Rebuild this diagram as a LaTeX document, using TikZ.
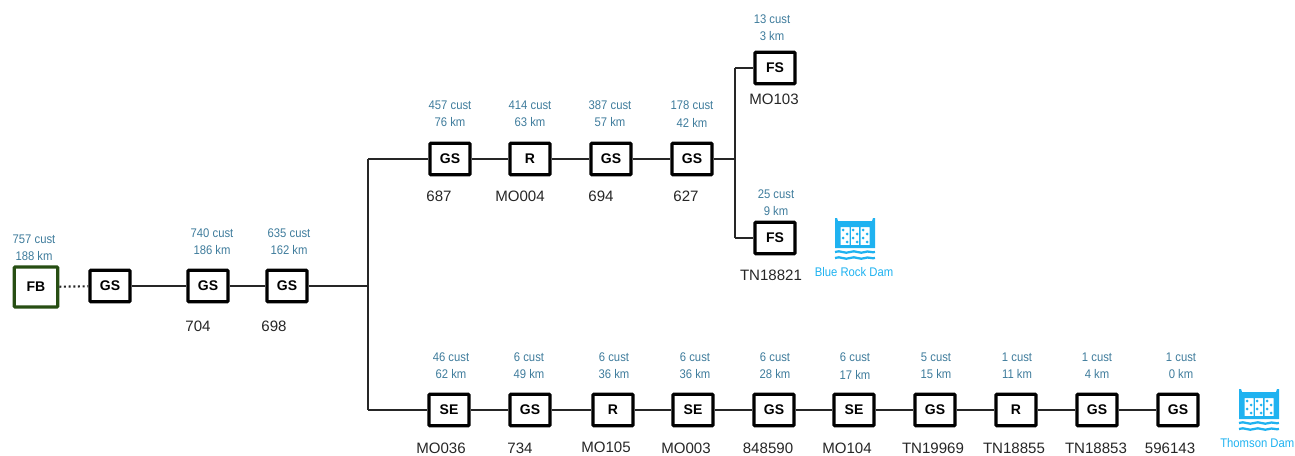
\documentclass[tikz,border=0pt]{standalone}
\usepackage{fontspec}
\setmainfont{Liberation Sans}
\newfontfamily\narrowfont[FakeStretch=0.9]{Liberation Sans}
\definecolor{custblue}{HTML}{3F7C9C}
\definecolor{dam}{HTML}{1FB2F0}
\definecolor{fbgreen}{HTML}{274E13}
\definecolor{idgray}{HTML}{262626}
\tikzset{
  x=0.75pt,y=-0.75pt,
  unit/.style={draw=black,line width=2.4pt,fill=white,minimum width=30pt,minimum height=23.5pt,inner sep=0pt,font=\fontsize{10.5}{12}\selectfont\bfseries,text=black,rounded corners=0.6pt},
  feeder/.style={unit,draw=fbgreen,minimum width=32.5pt,minimum height=30pt},
  stat/.style={align=center,inner sep=0pt,text=custblue,font=\narrowfont\fontsize{9.4}{13}\selectfont},
  ident/.style={inner sep=0pt,text=idgray,font=\fontsize{11.3}{13}\selectfont},
  damlabel/.style={inner sep=0pt,text=dam,font=\narrowfont\fontsize{9.4}{11}\selectfont},
  wire/.style={draw=black!85,line width=1.5pt},
  pics/damicon/.style={code={
    \fill[dam,even odd rule]
      (-20,-21) -- (-18,-21) -- (-17,-18) -- (17,-18) -- (18,-21) -- (20,-21) -- (20,9) -- (-20,9) -- cycle
      (-14.5,-12) rectangle (-5.5,6) (-4.2,-12) rectangle (4.2,6) (5.5,-12) rectangle (14.5,6);
    \foreach \xx in {-10,0,10}{
      \foreach \yy/\dd in {-9/-2,-5/2,-1/-2,3/2}{
        \fill[dam] (\xx+\dd,\yy) circle (1.5);
      }
    }
    \foreach \yy in {13,19}{
      \draw[dam,line width=1.7pt] (-20,\yy) .. controls (-15,\yy-2.5) and (-10,\yy+2.5) .. (-5,\yy)
        .. controls (0,\yy-2.5) and (5,\yy+2.5) .. (10,\yy) .. controls (13,\yy-1.5) and (17,\yy+1) .. (20,\yy);
    }
  }},
}
\begin{document}
\begin{tikzpicture}
\path[use as bounding box] (0,0) rectangle (1295,455);
\clip (0,0) rectangle (1295,455);
% nodes
\node[feeder] (fb) at (36,287) {FB};
\node[unit] (g0) at (110,286) {GS};
\node[unit] (g1) at (208,286) {GS};
\node[unit] (g2) at (287,286) {GS};
\coordinate (j0) at (368,286);
\coordinate (ju) at (368,159);
\coordinate (jl) at (368,410);
\node[unit] (a1) at (450,159) {GS};
\node[unit] (a2) at (530,159) {R};
\node[unit] (a3) at (611,159) {GS};
\node[unit] (a4) at (692,159) {GS};
\coordinate (j1) at (735,159);
\coordinate (j1u) at (735,68);
\coordinate (j1l) at (735,238);
\node[unit] (f1) at (775,68) {FS};
\node[unit] (f2) at (775,238) {FS};
\node[unit] (b1) at (449,410) {SE};
\node[unit] (b2) at (530,410) {GS};
\node[unit] (b3) at (613,410) {R};
\node[unit] (b4) at (693,410) {SE};
\node[unit] (b5) at (774,410) {GS};
\node[unit] (b6) at (854,410) {SE};
\node[unit] (b7) at (935,410) {GS};
\node[unit] (b8) at (1016,410) {R};
\node[unit] (b9) at (1097,410) {GS};
\node[unit] (b10) at (1178,410) {GS};
% connectors
\draw[wire,dotted,line width=1.6pt] (fb) -- (g0);
\draw[wire] (g0) -- (g1);
\draw[wire] (g1) -- (g2);
\draw[wire] (g2) -- (j0);
\draw[wire] (ju) -- (jl);
\draw[wire] (ju) -- (a1);
\draw[wire] (jl) -- (b1);
\draw[wire] (a1) -- (a2);
\draw[wire] (a2) -- (a3);
\draw[wire] (a3) -- (a4);
\draw[wire] (a4) -- (j1);
\draw[wire] (j1u) -- (j1l);
\draw[wire] (j1u) -- (f1);
\draw[wire] (j1l) -- (f2);
\draw[wire] (b1) -- (b2);
\draw[wire] (b2) -- (b3);
\draw[wire] (b3) -- (b4);
\draw[wire] (b4) -- (b5);
\draw[wire] (b5) -- (b6);
\draw[wire] (b6) -- (b7);
\draw[wire] (b7) -- (b8);
\draw[wire] (b8) -- (b9);
\draw[wire] (b9) -- (b10);
% stats
\node[stat] (s0) at (34,248) {757 cust\\188 km};
\node[stat] (s1) at (212,242) {740 cust\\186 km};
\node[stat] (s2) at (289,242) {635 cust\\162 km};
\node[stat] (s3) at (450,114) {457 cust\\76 km};
\node[stat] (s4) at (530,114) {414 cust\\63 km};
\node[stat] (s5) at (610,114) {387 cust\\57 km};
\node[stat] (s6) at (692,114) {178 cust\\42 km};
\node[stat] (s7) at (772,28) {13 cust\\3 km};
\node[stat] (s8) at (776,203) {25 cust\\9 km};
\node[stat] (s9) at (451,366) {46 cust\\62 km};
\node[stat] (s10) at (529,366) {6 cust\\49 km};
\node[stat] (s11) at (614,366) {6 cust\\36 km};
\node[stat] (s12) at (695,366) {6 cust\\36 km};
\node[stat] (s13) at (775,366) {6 cust\\28 km};
\node[stat] (s14) at (855,366) {6 cust\\17 km};
\node[stat] (s15) at (936,366) {5 cust\\15 km};
\node[stat] (s16) at (1017,366) {1 cust\\11 km};
\node[stat] (s17) at (1097,366) {1 cust\\4 km};
\node[stat] (s18) at (1181,366) {1 cust\\0 km};
% identifiers
\node[ident] (i1) at (198,326) {704};
\node[ident] (i2) at (274,326) {698};
\node[ident] (i3) at (439,196) {687};
\node[ident] (i4) at (520,196) {MO004};
\node[ident] (i5) at (601,196) {694};
\node[ident] (i6) at (686,196) {627};
\node[ident] (i7) at (774,99) {MO103};
\node[ident] (i8) at (771,275) {TN18821};
\node[ident] (i9) at (441,448) {MO036};
\node[ident] (i10) at (520,448) {734};
\node[ident] (i11) at (606,447) {MO105};
\node[ident] (i12) at (686,448) {MO003};
\node[ident] (i13) at (768,448) {848590};
\node[ident] (i14) at (847,448) {MO104};
\node[ident] (i15) at (933,448) {TN19969};
\node[ident] (i16) at (1014,448) {TN18855};
\node[ident] (i17) at (1096,448) {TN18853};
\node[ident] (i18) at (1170,448) {596143};
% dams
\pic at (855,239) {damicon};
\node[damlabel] (d1) at (854,272) {Blue Rock Dam};
\pic at (1259,410) {damicon};
\node[damlabel,anchor=west] (d2) at (1220,443) {Thomson Dam};
\end{tikzpicture}
\end{document}
